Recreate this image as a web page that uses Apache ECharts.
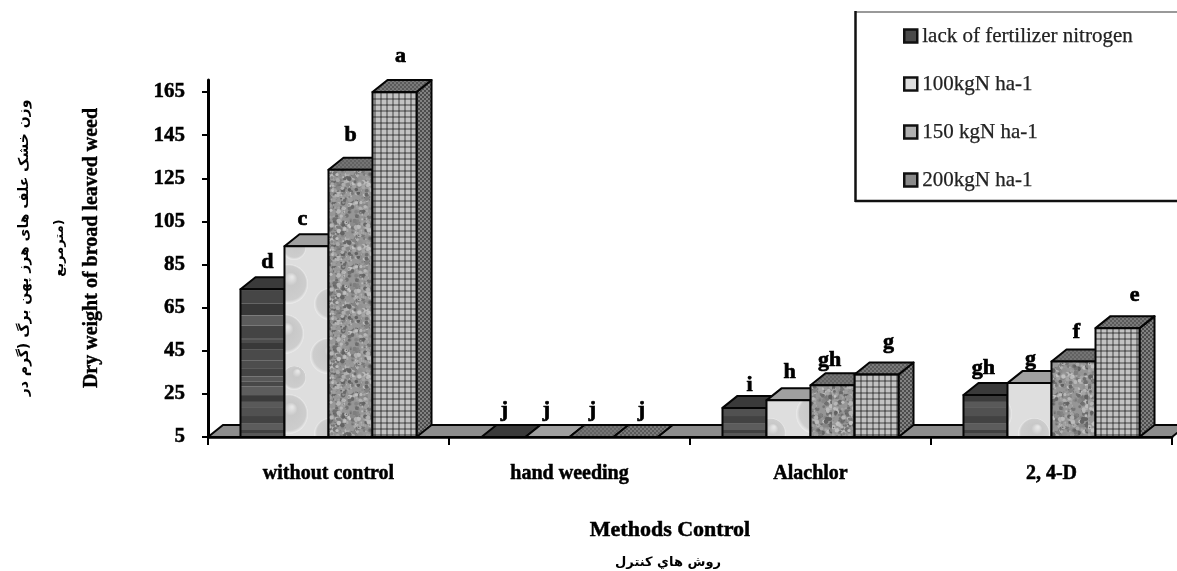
<!DOCTYPE html>
<html><head><meta charset="utf-8">
<style>html,body{margin:0;padding:0;background:#fff}#main{width:1177px;height:571px;filter:blur(0.6px)}</style>
<script src="https://cdn.jsdelivr.net/npm/echarts@6/dist/echarts.min.js"></script>
</head><body><div id="main"></div>
<script>
const categories = ['without control', 'hand weeding', 'Alachlor', '2, 4-D'];
const seriesNames = ['lack of fertilizer nitrogen', '100kgN ha-1', '150 kgN ha-1', '200kgN ha-1'];
const lackNitrogen = [73.5, 5, 18.5, 24.5];
const kg100 = [93.5, 5, 22, 30];
const kg150 = [129, 5, 29, 40];
const kg200 = [165, 5, 34, 55.5];
const lettersLack = ['d', 'j', 'i', 'gh'];
const letters100 = ['c', 'j', 'h', 'g'];
const letters150 = ['b', 'j', 'gh', 'f'];
const letters200 = ['a', 'j', 'g', 'e'];
const yTicks = [5, 25, 45, 65, 85, 105, 125, 145, 165];

const allValues = [lackNitrogen, kg100, kg150, kg200];
const allLetters = [lettersLack, letters100, letters150, letters200];

// label nudges relative to each bar's top-centre: [series][category] = [dx, dy]
const labelNudge = [
  [[5,-27],[1,-27],[5,-23],[-2,-27]],
  [[-4,-27],[-1,-27],[1,-28],[1,-24]],
  [[0,-34],[1,-27],[-3,-25],[3,-29]],
  [[6,-36],[6,-27],[12,-32],[17,-33]]
];

// ---- procedural textures (deterministic) ----
function seeded(s){return function(){s=(s*16807)%2147483647;return (s-1)/2147483646;};}
function tile(w,h,draw){const c=document.createElement('canvas');c.width=w;c.height=h;draw(c.getContext('2d'),w,h);return {image:c,repeat:'repeat'};}
function banded(base,amp,seed){return tile(44,170,(g,w,h)=>{const r=seeded(seed);let y=0;while(y<h){const t=3+r()*10;const v=Math.round(base+(r()-0.5)*amp);g.fillStyle=`rgb(${v},${v},${v})`;g.fillRect(0,y,w,t);y+=t;}});}
function bubbles(){return tile(88,130,(g,w,h)=>{g.fillStyle='#dedede';g.fillRect(0,0,w,h);
  [[24,24,20],[66,44,16],[20,74,20],[64,96,18],[30,118,12]].forEach(b=>{
    const gr=g.createRadialGradient(b[0]+4,b[1]-7,1,b[0],b[1],b[2]);
    gr.addColorStop(0,'#e6e6e6');gr.addColorStop(.3,'#c8c8c8');gr.addColorStop(.85,'#cdcdcd');gr.addColorStop(1,'#ececec');
    g.fillStyle=gr;g.beginPath();g.arc(b[0],b[1],b[2],0,Math.PI*2);g.fill();});});}
function granite(seed,dark,light){return tile(64,64,(g,w,h)=>{const r=seeded(seed);g.fillStyle='#969696';g.fillRect(0,0,w,h);
  for(let i=0;i<700;i++){const v=Math.round(dark+(light-dark)*r());g.fillStyle=`rgb(${v},${v},${v})`;const s=.6+r()*1.8;g.beginPath();g.arc(r()*w,r()*h,s,0,Math.PI*2);g.fill();}});}
function woven(){return tile(12,12,(g,w,h)=>{g.fillStyle='#c2c2c2';g.fillRect(0,0,w,h);g.fillStyle='#828282';
  for(let i=0;i<12;i+=6){g.fillRect(i+2,0,2,h);g.fillRect(0,i+2,w,2);}g.fillStyle='#585858';
  for(let i=0;i<12;i+=6)for(let j=0;j<12;j+=6)g.fillRect(i+2,j+2,2,2);});}
function hatch(a,b){return tile(4,4,(g,w,h)=>{g.fillStyle=a;g.fillRect(0,0,w,h);g.fillStyle=b;g.fillRect(0,0,2,2);g.fillRect(2,2,2,2);});}

const faces = [
  {front:banded(78,46,11), top:'#3a3a3a', side:'#404040'},
  {front:bubbles(), top:'#a0a0a0', side:'#8c8c8c'},
  {front:granite(29,95,195), top:hatch('#626262','#747474'), side:hatch('#5e5e5e','#727272')},
  {front:woven(), top:hatch('#5a5a5a','#7a7a7a'), side:hatch('#4c4c4c','#828282')}
];
const legendFill = ['#4a4a4a','#dedede','#b0b0b0','#8a8a8a'];
const BAR_SHARE = 0.1826, DX = 15, DY = 12;

function renderBar(sIdx){
  return function(params, api){
    const c = api.value(0), v = api.value(1);
    const top = api.coord([c, v]), base = api.coord([c, 5]);
    const w = api.size([1, 0])[0] * BAR_SHARE;
    const x0 = top[0] + (sIdx - 2) * w, x1 = x0 + w;
    const yt = top[1], yb = base[1];
    const st = {stroke:'#050505', lineWidth:2, lineJoin:'round'};
    const kids = [];
    kids.push({type:'polygon', shape:{points:[[x1,yb],[x1+DX,yb-DY],[x1+DX,yt-DY],[x1,yt]]}, style:Object.assign({fill:faces[sIdx].side},st)});
    kids.push({type:'polygon', shape:{points:[[x0,yt],[x0+DX,yt-DY],[x1+DX,yt-DY],[x1,yt]]}, style:Object.assign({fill:faces[sIdx].top},st)});
    if (yb - yt > 0.5) kids.push({type:'rect', shape:{x:x0,y:yt,width:w,height:yb-yt}, style:Object.assign({fill:faces[sIdx].front},st)});
    const n = labelNudge[sIdx][c];
    kids.push({type:'text', style:{x:x0+w/2+n[0], y:yt+n[1], text:allLetters[sIdx][c], align:'center', verticalAlign:'middle',
      font:'bold 22px "Liberation Serif"', fill:'#000', stroke:'#000', lineWidth:.7}});
    return {type:'group', children:kids};
  };
}
function renderFloor(params, api){
  const cs = params.coordSys, y = cs.y + cs.height, x = cs.x, r = cs.x + cs.width;
  return {type:'polygon', silent:true, shape:{points:[[x,y],[x+DX,y-DY],[r+DX,y-DY],[r,y]]},
    style:{fill:'#8c8c8c', stroke:'#050505', lineWidth:2}};
}

const serif = '"Liberation Serif"';
const barSeries = seriesNames.map((name,i)=>({
  name, type:'custom', z:3+i, clip:false, renderItem:renderBar(i),
  encode:{x:0,y:1}, itemStyle:{color:legendFill[i]},
  data: allValues[i].map((v,c)=>[c,v])
}));

const chart = echarts.init(document.getElementById('main'), null, {renderer:'canvas'});
chart.setOption({
  animation:false,
  backgroundColor:'#fff',
  grid:{left:208, right:5, top:80, bottom:134},
  xAxis:{type:'category', data:categories, boundaryGap:true, z:6,
    axisLine:{lineStyle:{color:'#000',width:2.5}},
    axisTick:{show:true, alignWithLabel:false, length:8, lineStyle:{color:'#000',width:2}},
    axisLabel:{interval:0, margin:27, color:'#000', fontFamily:serif, fontWeight:'bold', fontSize:20, textBorderColor:'#000', textBorderWidth:.5}},
  yAxis:{type:'value', min:5, max:170.6, z:6, splitLine:{show:false},
    axisLine:{show:true, lineStyle:{color:'#000',width:3}},
    axisTick:{show:true, length:6, lineStyle:{color:'#000',width:2}, customValues:yTicks},
    axisLabel:{margin:23, color:'#000', fontFamily:serif, fontWeight:'bold', fontSize:21, padding:[10,0,0,0], textBorderColor:'#000', textBorderWidth:.5, customValues:yTicks}},
  legend:{orient:'vertical', left:898, top:19, itemWidth:13, itemHeight:13, itemGap:24, selectedMode:false,
    data:seriesNames.map((n,i)=>({name:n, icon:'rect', itemStyle:{color:legendFill[i], borderColor:'#111', borderWidth:2.5}})),
    textStyle:{color:'#222', fontFamily:serif, fontSize:21, lineHeight:24, textBorderColor:'#222', textBorderWidth:.25}},
  graphic:[
    {type:'line', z:10, shape:{x1:855,y1:12,x2:1177,y2:12}, style:{stroke:'#777', lineWidth:1.5}},
    {type:'line', z:10, shape:{x1:855.5,y1:11,x2:855.5,y2:202}, style:{stroke:'#111', lineWidth:2.5}},
    {type:'line', z:10, shape:{x1:855,y1:201,x2:1177,y2:201}, style:{stroke:'#111', lineWidth:2.5}},
    {type:'text', z:10, x:670, y:530, style:{text:'Methods Control', align:'center', verticalAlign:'middle', font:'bold 22px '+serif, fill:'#000', stroke:'#000', lineWidth:.5}},
    {type:'text', z:10, x:668, y:563, style:{text:'روش هاي كنترل', align:'center', verticalAlign:'middle', font:'bold 13px "DejaVu Sans"', fill:'#000'}},
    {type:'text', z:10, x:24, y:248, rotation:Math.PI/2, style:{text:'وزن خشک علف های هرز پهن برگ (گرم در', align:'center', verticalAlign:'middle', font:'bold 14px "DejaVu Sans"', fill:'#000'}},
    {type:'text', z:10, x:60, y:248, rotation:Math.PI/2, style:{text:'مترمربع)', align:'center', verticalAlign:'middle', font:'bold 13px "DejaVu Sans"', fill:'#000'}},
    {type:'text', z:10, x:92, y:248, rotation:Math.PI/2, style:{text:'Dry weight of broad leaved weed', align:'center', verticalAlign:'middle', font:'bold 20px '+serif, fill:'#000', stroke:'#000', lineWidth:.4}}
  ],
  series:[{name:'floor', type:'custom', z:2, clip:false, renderItem:renderFloor, data:[[0,5]], encode:{x:0,y:1}}].concat(barSeries)
});
</script></body></html>
